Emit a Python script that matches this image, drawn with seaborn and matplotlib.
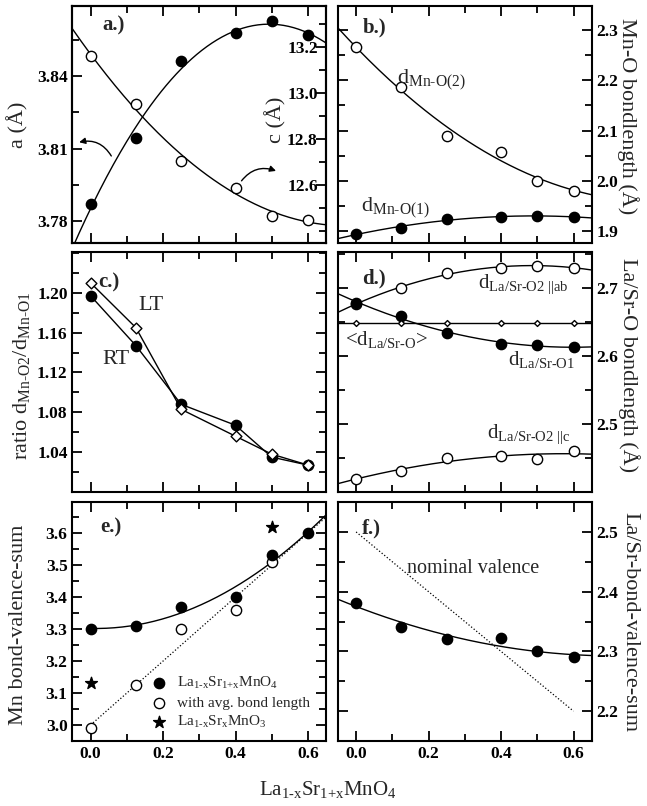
import numpy as np
import matplotlib.pyplot as plt
import seaborn as sns
from matplotlib.ticker import MultipleLocator, FixedLocator, FormatStrFormatter

HY = '\u2010'  # real hyphen inside math subscripts

x_conc = [0.0, 0.125, 0.25, 0.4, 0.5, 0.6]

# a.) lattice constants
a_lat = [3.8483, 3.8285, 3.805, 3.7938, 3.782, 3.7804]
c_lat = [12.517, 12.804, 13.139, 13.261, 13.313, 13.252]

# b.) Mn-O bond lengths
d_mno2 = [2.266, 2.186, 2.090, 2.058, 2.000, 1.980]
d_mno1 = [1.894, 1.906, 1.924, 1.928, 1.930, 1.928]

# c.) ratio of the Mn-O distances
ratio_rt = [1.197, 1.147, 1.088, 1.067, 1.035, 1.027]
ratio_lt = [1.210, 1.165, 1.083, 1.056, 1.038, 1.027]

# d.) La/Sr-O bond lengths
d_lao2_ab = [2.677, 2.700, 2.722, 2.730, 2.733, 2.730]
d_lao1 = [2.678, 2.659, 2.634, 2.618, 2.616, 2.613]
d_lao_avg = [2.649, 2.649, 2.649, 2.649, 2.649, 2.649]
d_lao2_c = [2.419, 2.431, 2.450, 2.453, 2.449, 2.460]

# e.) Mn bond valence sums
bvs_mn = [3.30, 3.31, 3.37, 3.40, 3.53, 3.60]
x_avg = [0.0, 0.125, 0.25, 0.4, 0.5]
bvs_mn_avg = [2.99, 3.125, 3.30, 3.36, 3.51]
x_113 = [0.0, 0.5]
bvs_113 = [3.13, 3.62]
x_nom_mn = [0.0, 0.65]
nom_mn = [3.0, 3.65]

# f.) La/Sr bond valence sums
bvs_lasr = [2.381, 2.341, 2.320, 2.322, 2.300, 2.290]
x_nom_lasr = [0.0, 0.6]
nom_lasr = [2.5, 2.2]

# labelled ticks
ticks_a = [3.78, 3.81, 3.84]
ticks_c_lat = [12.6, 12.8, 13.0, 13.2]
ticks_b = [1.9, 2.0, 2.1, 2.2, 2.3]
ticks_c = [1.04, 1.08, 1.12, 1.16, 1.20]
ticks_d = [2.5, 2.6, 2.7]
ticks_e = [3.0, 3.1, 3.2, 3.3, 3.4, 3.5, 3.6]
ticks_f = [2.2, 2.3, 2.4, 2.5]

sns.set_theme(style='ticks')
plt.rcParams['font.family'] = ['Liberation Serif', 'DejaVu Serif']
plt.rcParams.update({
    'mathtext.fontset': 'custom',
    'mathtext.rm': 'Liberation Serif',
    'mathtext.it': 'Liberation Serif:italic',
    'mathtext.bf': 'Liberation Serif:bold',
    'mathtext.default': 'rm',
    'axes.linewidth': 1.5,
    'axes.edgecolor': 'black',
    'xtick.major.size': 7, 'ytick.major.size': 7,
    'xtick.minor.size': 5, 'ytick.minor.size': 5,
    'xtick.major.width': 1.3, 'ytick.major.width': 1.3,
    'xtick.minor.width': 1.3, 'ytick.minor.width': 1.3,
    'xtick.color': 'black', 'ytick.color': 'black',
})

TICK_FS = 12.5
LABEL_FS = 16


def fit_curve(ax, x, y, lo, hi, order=2, **kw):
    coef = np.polyfit(x, y, order)
    xs = np.linspace(lo, hi, 150)
    sns.lineplot(x=xs, y=np.polyval(coef, xs), ax=ax, color='black', linewidth=1.0, **kw)


def dots(ax, x, y, filled=True, marker='o', s=55, **kw):
    sns.scatterplot(x=x, y=y, ax=ax, marker=marker, s=s,
                    color='black' if filled else 'white', edgecolor='black',
                    linewidth=1.0, zorder=3, **kw)


def style(ax, ylim, yticks, ymin, yfmt, side='left', xlabels=False):
    ax.set_xlim(-0.05, 0.65)
    ax.set_ylim(*ylim)
    ax.xaxis.set_major_locator(MultipleLocator(0.2))
    ax.xaxis.set_minor_locator(MultipleLocator(0.1))
    ax.xaxis.set_major_formatter(FormatStrFormatter('%.1f'))
    ax.yaxis.set_major_locator(FixedLocator(yticks))
    ax.yaxis.set_minor_locator(MultipleLocator(ymin))
    ax.yaxis.set_major_formatter(FormatStrFormatter(yfmt))
    ax.tick_params(which='both', direction='in', top=True, bottom=True,
                   left=True, right=True, labelbottom=xlabels, labelsize=TICK_FS)
    if side == 'right':
        ax.yaxis.set_label_position('right')
        ax.tick_params(labelleft=False, labelright=True)
    ax.set_xlabel('')
    for lab in ax.get_xticklabels() + ax.get_yticklabels():
        lab.set_fontweight('bold')


def left_label(ax, text, xc, yc=0.5):
    ax.set_ylabel(text, fontsize=LABEL_FS)
    ax.yaxis.set_label_coords(xc, yc)


def right_label(ax, text, xc, yc=0.5):
    ax.set_ylabel(text, fontsize=LABEL_FS, rotation=-90, va='bottom')
    ax.yaxis.set_label_coords(xc, yc)


fig = plt.figure(figsize=(6.47, 8.06), dpi=100)
L, R, W = 0.112, 0.5224, 0.392
ax_a = fig.add_axes([L, 0.6985, W, 0.294])
ax_b = fig.add_axes([R, 0.6985, W, 0.294])
ax_c = fig.add_axes([L, 0.3896, W, 0.2978])
ax_d = fig.add_axes([R, 0.3896, W, 0.2978])
ax_e = fig.add_axes([L, 0.0806, W, 0.2965])
ax_f = fig.add_axes([R, 0.0806, W, 0.2965])

# a.)
ax_a.set_xlim(-0.05, 0.65)
fit_curve(ax_a, x_conc, a_lat, -0.05, 0.65)
dots(ax_a, x_conc, a_lat, filled=False)
style(ax_a, (3.771, 3.869), ticks_a, 0.015, '%.2f')
ax_a.tick_params(axis='y', which='both', right=False)
left_label(ax_a, 'a (Å)', -0.172)
ax_a2 = ax_a.twinx()
fit_curve(ax_a2, x_conc, c_lat, -0.05, 0.65)
dots(ax_a2, x_conc, c_lat)
ax_a2.set_ylim(12.348, 13.378)
ax_a2.yaxis.set_major_locator(FixedLocator(ticks_c_lat))
ax_a2.yaxis.set_minor_locator(MultipleLocator(0.1))
ax_a2.yaxis.set_major_formatter(FormatStrFormatter('%.1f'))
ax_a2.tick_params(axis='y', which='both', direction='in', left=False, right=True,
                  labelsize=TICK_FS, pad=-6)
for lab in ax_a2.get_yticklabels():
    lab.set_ha('right')
    lab.set_fontweight('bold')
ax_a2.set_ylabel('c (Å)', fontsize=LABEL_FS, rotation=90, va='center')
ax_a2.yaxis.set_label_coords(0.80, 0.52)
ax_a.text(0.033, 3.859, 'a.)', fontsize=15, fontweight='bold')
arrow = dict(arrowstyle='-|>', color='black', lw=1.0, mutation_scale=9)
ax_a.annotate('', xy=(-0.039, 3.8124), xytext=(0.061, 3.806),
              arrowprops=dict(arrow, connectionstyle='arc3,rad=0.4'))
ax_a.annotate('', xy=(0.519, 3.8004), xytext=(0.412, 3.7958),
              arrowprops=dict(arrow, connectionstyle='arc3,rad=-0.4'))

# b.)
fit_curve(ax_b, x_conc, d_mno2, -0.05, 0.65)
fit_curve(ax_b, x_conc, d_mno1, -0.05, 0.65)
dots(ax_b, x_conc, d_mno2, filled=False)
dots(ax_b, x_conc, d_mno1)
style(ax_b, (1.876, 2.348), ticks_b, 0.05, '%.1f', side='right')
right_label(ax_b, 'Mn-O bondlength (Å)', 1.10, 0.535)
ax_b.text(0.017, 2.296, 'b.)', fontsize=15, fontweight='bold')
ax_b.text(0.113, 2.194, 'd$_{Mn' + HY + 'O(2)}$', fontsize=16)
ax_b.text(0.014, 1.938, 'd$_{Mn' + HY + 'O(1)}$', fontsize=16)

# c.)
sns.lineplot(x=x_conc, y=ratio_rt, ax=ax_c, color='black', linewidth=1.0)
sns.lineplot(x=x_conc, y=ratio_lt, ax=ax_c, color='black', linewidth=1.0)
dots(ax_c, x_conc, ratio_rt)
dots(ax_c, x_conc, ratio_lt, filled=False, marker='D', s=30)
style(ax_c, (1.0, 1.241), ticks_c, 0.02, '%.2f')
left_label(ax_c, 'ratio d$_{Mn' + HY + 'O2}$/d$_{Mn' + HY + 'O1}$', -0.16, 0.483)
ax_c.text(0.022, 1.205, 'c.)', fontsize=15, fontweight='bold')
ax_c.text(0.133, 1.183, 'LT', fontsize=16)
ax_c.text(0.033, 1.128, 'RT', fontsize=16)

# d.)
fit_curve(ax_d, x_conc, d_lao2_ab, -0.05, 0.65)
fit_curve(ax_d, x_conc, d_lao1, -0.05, 0.65)
fit_curve(ax_d, x_conc, d_lao_avg, -0.05, 0.65, order=0)
fit_curve(ax_d, x_conc, d_lao2_c, -0.05, 0.65)
dots(ax_d, x_conc, d_lao2_ab, filled=False)
dots(ax_d, x_conc, d_lao1)
dots(ax_d, x_conc, d_lao_avg, filled=False, marker='D', s=9)
dots(ax_d, x_conc, d_lao2_c, filled=False)
style(ax_d, (2.40, 2.753), ticks_d, 0.05, '%.1f', side='right')
right_label(ax_d, 'La/Sr-O bondlength (Å)', 1.105, 0.53)
ax_d.text(0.017, 2.706, 'd.)', fontsize=15, fontweight='bold')
ax_d.text(0.336, 2.70, r'd$_{La/Sr' + HY + r'O2\ ||ab}$', fontsize=15)
ax_d.text(-0.03, 2.616, '<d$_{La/Sr' + HY + 'O}$>', fontsize=15)
ax_d.text(0.42, 2.587, 'd$_{La/Sr' + HY + 'O1}$', fontsize=15)
ax_d.text(0.36, 2.479, r'd$_{La/Sr' + HY + r'O2\ ||c}$', fontsize=15)

# e.)
fit_curve(ax_e, x_conc, bvs_mn, 0.0, 0.65)
sns.lineplot(x=x_nom_mn, y=nom_mn, ax=ax_e, color='black', linewidth=0.9, linestyle=':')
dots(ax_e, x_avg, bvs_mn_avg, filled=False, label='with avg. bond length')
dots(ax_e, x_conc, bvs_mn, label='La$_{1' + HY + 'x}$Sr$_{1{+}x}$MnO$_4$')
dots(ax_e, x_113, bvs_113, marker='*', s=80, label='La$_{1' + HY + 'x}$Sr$_x$MnO$_3$')
style(ax_e, (2.95, 3.697), ticks_e, 0.05, '%.1f', xlabels=True)
left_label(ax_e, 'Mn bond-valence-sum', -0.176, 0.485)
ax_e.text(0.028, 3.603, 'e.)', fontsize=15, fontweight='bold')
h, lab = ax_e.get_legend_handles_labels()
order = [1, 0, 2]
ax_e.legend([h[i] for i in order], [lab[i] for i in order], loc='lower left',
            bbox_to_anchor=(0.31, 0.045), frameon=False, fontsize=11,
            handlelength=1.0, handletextpad=0.7, labelspacing=0.3,
            borderpad=0, borderaxespad=0)

# f.)
fit_curve(ax_f, x_conc, bvs_lasr, -0.05, 0.65)
sns.lineplot(x=x_nom_lasr, y=nom_lasr, ax=ax_f, color='black', linewidth=0.9, linestyle=':')
dots(ax_f, x_conc, bvs_lasr)
style(ax_f, (2.15, 2.55), ticks_f, 0.05, '%.1f', side='right', xlabels=True)
right_label(ax_f, 'La/Sr-bond-valence-sum', 1.115, 0.5)
ax_f.text(0.017, 2.498, 'f.)', fontsize=15, fontweight='bold')
ax_f.text(0.14, 2.431, 'nominal valence', fontsize=14.5)

fig.supxlabel('La$_{1' + HY + 'x}$Sr$_{1{+}x}$MnO$_4$', x=0.507, y=0.008,
              va='bottom', fontsize=15)

fig.savefig('out.png', dpi=100)
